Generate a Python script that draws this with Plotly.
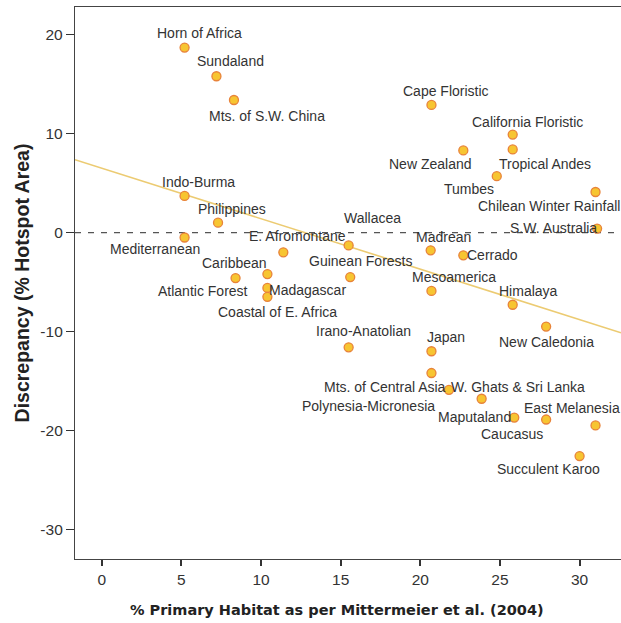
import plotly.graph_objects as go

# ---- data ----
regions = [
    "Horn of Africa", "Sundaland", "Mts. of S.W. China", "Indo-Burma", "Philippines",
    "Mediterranean", "E. Afromontane", "Wallacea", "Caribbean", "Atlantic Forest",
    "Madagascar", "Coastal of E. Africa", "Guinean Forests", "Irano-Anatolian",
    "Cape Floristic", "California Floristic", "Tropical Andes", "New Zealand", "Tumbes",
    "Chilean Winter Rainfall", "S.W. Australia", "Madrean", "Cerrado", "Mesoamerica",
    "Himalaya", "New Caledonia", "Japan", "Mts. of Central Asia", "W. Ghats & Sri Lanka",
    "Polynesia-Micronesia", "Maputaland", "Caucasus", "East Melanesia", "Succulent Karoo",
]
primary_habitat = [
    5.2, 7.2, 8.3, 5.2, 7.3,
    5.2, 11.4, 15.5, 10.4, 8.4,
    10.4, 10.4, 15.6, 15.5,
    20.7, 25.8, 25.8, 22.7, 24.8,
    31.0, 31.1, 20.65, 22.7, 20.7,
    25.8, 27.9, 20.7, 20.7, 21.8,
    23.85, 25.9, 27.9, 31.0, 30.0,
]
discrepancy = [
    18.7, 15.8, 13.4, 3.7, 1.0,
    -0.5, -2.0, -1.3, -4.2, -4.6,
    -5.6, -6.5, -4.5, -11.6,
    12.9, 9.9, 8.4, 8.3, 5.7,
    4.1, 0.4, -1.8, -2.3, -5.9,
    -7.3, -9.5, -12.0, -14.2, -15.9,
    -16.8, -18.7, -18.9, -19.5, -22.6,
]
fit_intercept = 6.5
fit_slope = -0.51

x_ticks = [0, 5, 10, 15, 20, 25, 30]
y_ticks = [-30, -20, -10, 0, 10, 20]
y_tick_labels = ["-30", "-20", "-10", "0", "10", "20"]

x_title = "% Primary Habitat as per Mittermeier et al. (2004)"
y_title = "Discrepancy (% Hotspot Area)"

# ---- label offsets (pixels, dx right, dy down) ----
label_offsets = [
    (15, -15), (14, -15), (33, 16), (14, -14), (14, -14),
    (-30, 12), (14, -16), (24, -27), (-33, -11), (-33, 13),
    (40, 2), (10, 15), (11, -16), (15, -16),
    (15, -14), (15, -13), (32, 15), (-33, 14), (-28, 13),
    (26, 14), (-44, -1), (13, -13), (29, 0), (23, -14),
    (16, -14), (0, 15), (15, -14), (-46, 14), (69, -3),
    (-113, 7), (-40, -1), (-34, 14), (26, -17), (-31, 13),
]
label_anchor = {"Chilean Winter Rainfall": "right", "East Melanesia": "right"}

X_RANGE = [-1.68, 32.6]
Y_RANGE = [-33.0, 22.8]

fig = go.Figure()

# zero reference line
fig.add_shape(type="line", xref="paper", x0=0, x1=1, yref="y", y0=0, y1=0,
              line=dict(color="#555555", width=1.2, dash="6px,7px"), layer="below")

# regression line
fx = [X_RANGE[0], X_RANGE[1]]
fy = [fit_intercept + fit_slope * v for v in fx]
fig.add_trace(go.Scatter(x=fx, y=fy, mode="lines",
                         line=dict(color="#eccb72", width=1.6),
                         hoverinfo="skip", showlegend=False))

fig.add_trace(go.Scatter(
    x=primary_habitat, y=discrepancy, mode="markers", text=regions,
    marker=dict(size=9, color="#f7c531", line=dict(color="#e8833a", width=1.3)),
    showlegend=False,
))

for name, xv, yv, (dx, dy) in zip(regions, primary_habitat, discrepancy, label_offsets):
    anchor = label_anchor.get(name, "center")
    fig.add_annotation(x=xv, y=yv, text=name, showarrow=False,
                       xanchor=anchor, yanchor="middle",
                       xshift=dx, yshift=-dy,
                       font=dict(family="Liberation Sans, Arial", size=14, color="#333333"))

# x-axis title (slightly left of the plot centre, as in the reference)
fig.add_annotation(xref="paper", yref="paper", x=0.48, y=0, yshift=-51,
                   xanchor="center", yanchor="middle", showarrow=False,
                   text=x_title,
                   font=dict(family="DejaVu Sans", size=14.5, color="#222222", weight="bold"))

fig.update_layout(
    width=621, height=623,
    margin=dict(l=75, r=0, t=7, b=64),
    paper_bgcolor="white", plot_bgcolor="white",
    font=dict(family="Liberation Sans, Arial", color="#333333"),
    xaxis=dict(
        range=X_RANGE, tickvals=x_ticks, ticks="outside", ticklen=6, tickwidth=1.5,
        tickcolor="#333333", showline=True, linecolor="#444444", linewidth=1.3,
        mirror=True, showgrid=False, zeroline=False, automargin=False,
        tickfont=dict(size=15.5, color="#333333"),
    ),
    yaxis=dict(
        range=Y_RANGE, tickvals=y_ticks, ticktext=y_tick_labels, ticks="outside",
        ticklen=8, tickwidth=1.3,
        tickcolor="#333333", showline=True, linecolor="#444444", linewidth=1.3,
        showgrid=False, zeroline=False, automargin=False,
        tickfont=dict(size=15.5, color="#333333"),
        title=dict(text=y_title,
                   font=dict(family="Liberation Sans, Arial", size=19.5, color="#222222",
                             weight="bold"), standoff=5),
    ),
)

fig.write_html("out.html", config={"displayModeBar": False},
               post_script="document.body.style.margin='0';document.body.style.overflow='hidden';")
